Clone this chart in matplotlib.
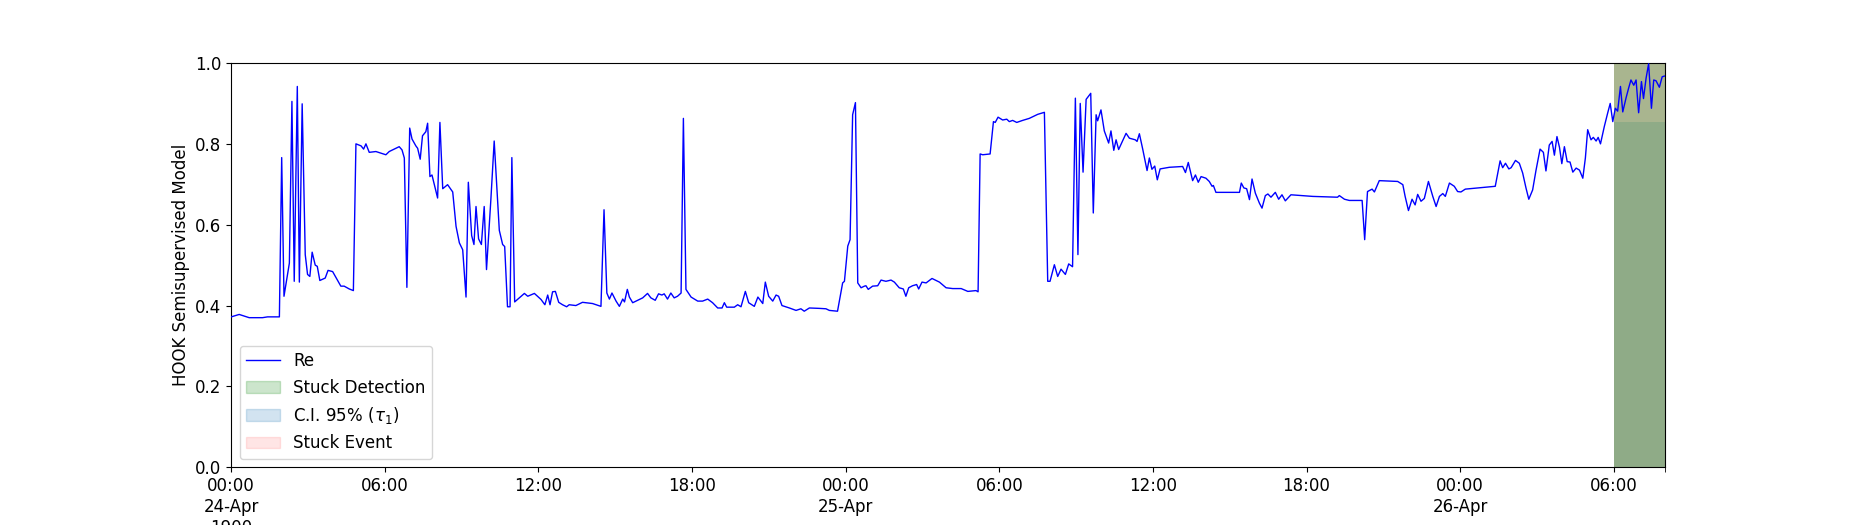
import matplotlib
matplotlib.use("Agg")
import matplotlib.pyplot as plt
import matplotlib.dates as mdates
import matplotlib.patches as mpatches
import matplotlib.ticker as mticker
from matplotlib.lines import Line2D
import pandas as pd

plt.rcParams['font.size'] = 12

# hours since 24-Apr 00:00 and model output
hours_day1 = [
    0.00, 0.31, 0.51, 0.70, 1.22, 1.42, 1.88, 1.97, 2.06, 2.27,
    2.37, 2.46, 2.58, 2.66, 2.77, 2.89, 2.98, 3.07, 3.16, 3.28,
    3.36, 3.46, 3.67, 3.78, 3.96, 4.28, 4.41, 4.61, 4.77, 4.87,
    5.07, 5.17, 5.26, 5.39, 5.65, 6.04, 6.17, 6.37, 6.56, 6.67,
    6.76, 6.86, 6.97, 7.06, 7.21, 7.28, 7.38, 7.47, 7.60, 7.67,
    7.76, 7.84, 8.06, 8.15, 8.26, 8.45, 8.65, 8.78, 8.91, 9.04,
    9.17, 9.26, 9.39, 9.48, 9.56, 9.66, 9.77, 9.88, 9.97, 10.14,
    10.27, 10.47, 10.60, 10.68, 10.79, 10.89, 10.96, 11.07, 11.25, 11.45,
    11.58, 11.84, 12.10, 12.25, 12.36, 12.45, 12.55, 12.66, 12.79, 12.94,
    13.10, 13.20, 13.46, 13.72, 14.11, 14.44, 14.56, 14.67, 14.77, 14.87,
    15.03, 15.16, 15.29, 15.36, 15.47, 15.55, 15.68, 16.07, 16.26, 16.39,
    16.56, 16.69, 16.82, 16.91, 17.04, 17.17, 17.30, 17.43, 17.57, 17.66,
    17.76, 17.96, 18.22, 18.41, 18.61, 18.80,
]
re_day1 = [
    0.372, 0.378, 0.374, 0.370, 0.370, 0.372, 0.372, 0.766, 0.423, 0.505,
    0.905, 0.460, 0.942, 0.458, 0.899, 0.526, 0.477, 0.472, 0.532, 0.500,
    0.497, 0.462, 0.468, 0.487, 0.484, 0.448, 0.448, 0.441, 0.437, 0.800,
    0.795, 0.787, 0.800, 0.779, 0.781, 0.773, 0.781, 0.787, 0.793, 0.785,
    0.765, 0.445, 0.839, 0.812, 0.795, 0.789, 0.762, 0.820, 0.830, 0.851,
    0.719, 0.723, 0.666, 0.853, 0.689, 0.699, 0.681, 0.596, 0.555, 0.538,
    0.421, 0.705, 0.573, 0.551, 0.645, 0.565, 0.551, 0.645, 0.489, 0.662,
    0.807, 0.586, 0.551, 0.546, 0.397, 0.397, 0.766, 0.409, 0.419, 0.430,
    0.423, 0.430, 0.415, 0.402, 0.426, 0.402, 0.434, 0.435, 0.408, 0.402,
    0.397, 0.402, 0.400, 0.408, 0.405, 0.398, 0.637, 0.431, 0.416, 0.431,
    0.411, 0.398, 0.416, 0.409, 0.440, 0.421, 0.407, 0.419, 0.430, 0.419,
    0.413, 0.429, 0.426, 0.429, 0.416, 0.431, 0.419, 0.423, 0.431, 0.863,
    0.440, 0.421, 0.411, 0.411, 0.416, 0.407,
]

hours_day2 = [
    19.00, 19.17, 19.26, 19.35, 19.65, 19.78, 19.91, 20.08, 20.21, 20.43,
    20.57, 20.76, 20.86, 20.99, 21.15, 21.28, 21.38, 21.51, 21.80, 22.06,
    22.25, 22.38, 22.58, 22.97, 23.23, 23.36, 23.68, 23.88, 23.95, 24.08,
    24.17, 24.27, 24.38, 24.47, 24.60, 24.73, 24.79, 24.88, 25.05, 25.25,
    25.38, 25.57, 25.77, 25.90, 26.09, 26.25, 26.35, 26.46, 26.61, 26.77,
    26.85, 26.98, 27.14, 27.37, 27.66, 27.92, 28.18, 28.51, 28.77, 29.09,
    29.17, 29.25, 29.35, 29.64, 29.77, 29.84, 29.95, 30.13, 30.29, 30.39,
    30.52, 30.68, 30.91, 31.17, 31.50, 31.76, 31.89, 31.98, 32.15, 32.28,
    32.41, 32.58, 32.71, 32.86, 32.97, 33.07, 33.16, 33.27, 33.39, 33.57,
    33.67, 33.78, 33.84, 33.97, 34.10, 34.27, 34.36, 34.47, 34.56, 34.66,
    34.95, 35.08, 35.31, 35.38, 35.47, 35.60, 35.77, 35.86, 35.96, 36.07,
    36.17, 36.28, 36.64, 37.16, 37.27, 37.38,
]
re_day2 = [
    0.394, 0.394, 0.407, 0.396, 0.396, 0.402, 0.397, 0.435, 0.407, 0.398,
    0.421, 0.405, 0.458, 0.423, 0.411, 0.426, 0.423, 0.400, 0.394, 0.388,
    0.392, 0.386, 0.394, 0.393, 0.392, 0.388, 0.386, 0.456, 0.460, 0.547,
    0.563, 0.872, 0.902, 0.456, 0.444, 0.448, 0.449, 0.440, 0.448, 0.449,
    0.463, 0.460, 0.463, 0.458, 0.444, 0.441, 0.423, 0.444, 0.449, 0.452,
    0.441, 0.458, 0.456, 0.467, 0.458, 0.444, 0.442, 0.442, 0.435, 0.437,
    0.434, 0.775, 0.773, 0.775, 0.855, 0.853, 0.866, 0.859, 0.861, 0.855,
    0.858, 0.853, 0.858, 0.863, 0.873, 0.878, 0.460, 0.460, 0.501, 0.472,
    0.490, 0.477, 0.503, 0.496, 0.913, 0.526, 0.900, 0.730, 0.910, 0.925,
    0.629, 0.872, 0.857, 0.884, 0.832, 0.802, 0.832, 0.784, 0.810, 0.786,
    0.826, 0.814, 0.810, 0.806, 0.825, 0.787, 0.734, 0.765, 0.737, 0.745,
    0.711, 0.738, 0.742, 0.744, 0.729, 0.754,
]

hours_day3 = [
    37.55, 37.66, 37.77, 37.88, 38.07, 38.20, 38.31, 38.36, 38.46, 39.38,
    39.45, 39.55, 39.66, 39.77, 39.87, 40.00, 40.16, 40.26, 40.39, 40.49,
    40.61, 40.78, 40.91, 41.04, 41.17, 41.39, 42.24, 43.21, 43.28, 43.48,
    43.67, 44.17, 44.27, 44.38, 44.56, 44.65, 44.84, 45.56, 45.76, 45.85,
    45.98, 46.12, 46.24, 46.34, 46.47, 46.60, 46.76, 46.93, 47.06, 47.19,
    47.32, 47.42, 47.58, 47.77, 47.90, 48.03, 48.20, 49.37, 49.47, 49.56,
    49.66, 49.77, 49.90, 49.99, 50.16, 50.31, 50.44, 50.57, 50.68, 50.83,
    50.96, 51.12, 51.25, 51.35, 51.48, 51.59, 51.68, 51.78, 51.88, 51.97,
    52.07, 52.18, 52.29, 52.40, 52.53, 52.66, 52.79, 52.89, 52.98, 53.11,
    53.20, 53.31, 53.39, 53.48, 53.63, 53.76, 53.86, 53.96, 54.06, 54.15,
    54.26, 54.35, 54.48, 54.58, 54.67, 54.78, 54.87, 54.97, 55.08, 55.16,
    55.26, 55.36, 55.47, 55.56, 55.65, 55.78, 55.89, 56.00,
]
re_day3 = [
    0.709, 0.723, 0.705, 0.719, 0.715, 0.707, 0.695, 0.697, 0.680, 0.680,
    0.703, 0.691, 0.689, 0.662, 0.713, 0.678, 0.653, 0.641, 0.672, 0.676,
    0.668, 0.680, 0.663, 0.674, 0.659, 0.674, 0.670, 0.668, 0.672, 0.663,
    0.660, 0.660, 0.563, 0.682, 0.688, 0.681, 0.709, 0.707, 0.699, 0.670,
    0.635, 0.663, 0.649, 0.675, 0.658, 0.665, 0.707, 0.670, 0.645, 0.670,
    0.677, 0.670, 0.703, 0.695, 0.682, 0.681, 0.688, 0.695, 0.728, 0.758,
    0.741, 0.752, 0.738, 0.741, 0.759, 0.752, 0.728, 0.691, 0.663, 0.686,
    0.734, 0.787, 0.779, 0.733, 0.797, 0.806, 0.772, 0.818, 0.791, 0.751,
    0.793, 0.756, 0.755, 0.730, 0.740, 0.735, 0.715, 0.765, 0.835, 0.810,
    0.816, 0.807, 0.816, 0.800, 0.843, 0.876, 0.900, 0.855, 0.888, 0.881,
    0.942, 0.879, 0.914, 0.938, 0.958, 0.945, 0.958, 0.877, 0.954, 0.912,
    0.962, 0.998, 0.888, 0.958, 0.956, 0.940, 0.966, 0.968,
]

start = pd.Timestamp('1900-04-24 00:00')
end_hour = 56.0
detect_start = 54.0   # stuck detection window (hours)
detect_end = 56.0
ci_low = 0.855        # lower edge of the shaded band inside the window

hours = hours_day1 + hours_day2 + hours_day3
re_vals = re_day1 + re_day2 + re_day3
assert len(hours) == len(re_vals)

t = start + pd.to_timedelta(hours, unit='h')
t0 = start + pd.Timedelta(hours=detect_start)
t1 = start + pd.Timedelta(hours=detect_end)

fig = plt.figure(figsize=(18.5, 5.25), dpi=100)
ax = fig.add_subplot(111)

ax.axvspan(t0, t1, color='#8fab87', lw=0, zorder=1)
ax.fill_between([t0, t1], ci_low, 1.0, color='#a9b58f', lw=0, zorder=1.5)
ax.plot(t, re_vals, color='blue', lw=1, zorder=3)

ax.set_xlim(start, start + pd.Timedelta(hours=end_hour))
ax.set_ylim(0, 1)
ax.set_ylabel('HOOK Semisupervised Model')

ax.xaxis.set_major_locator(mdates.HourLocator(byhour=[0, 6, 12, 18]))


def fmt_tick(x, pos):
    d = mdates.num2date(x)
    s = d.strftime('%H:%M')
    if d.hour == 0:
        s += '\n' + d.strftime('%d-%b')
        if pos == 0:
            s += '\n' + str(d.year)
    return s


ax.xaxis.set_major_formatter(mticker.FuncFormatter(fmt_tick))
ax.set_xticks([mdates.date2num(start + pd.Timedelta(hours=end_hour))], minor=True)
ax.tick_params(axis='x', which='minor', length=3.5)
ax.xaxis.set_minor_formatter(mticker.NullFormatter())

handles = [
    Line2D([], [], color='blue', lw=1, label='Re'),
    mpatches.Patch(color='green', alpha=0.2, label='Stuck Detection'),
    mpatches.Patch(color='tab:blue', alpha=0.2, label=r'C.I. 95% ($\tau_1$)'),
    mpatches.Patch(color='red', alpha=0.1, label='Stuck Event'),
]
ax.legend(handles=handles, loc='lower left')

fig.savefig('out.png')
